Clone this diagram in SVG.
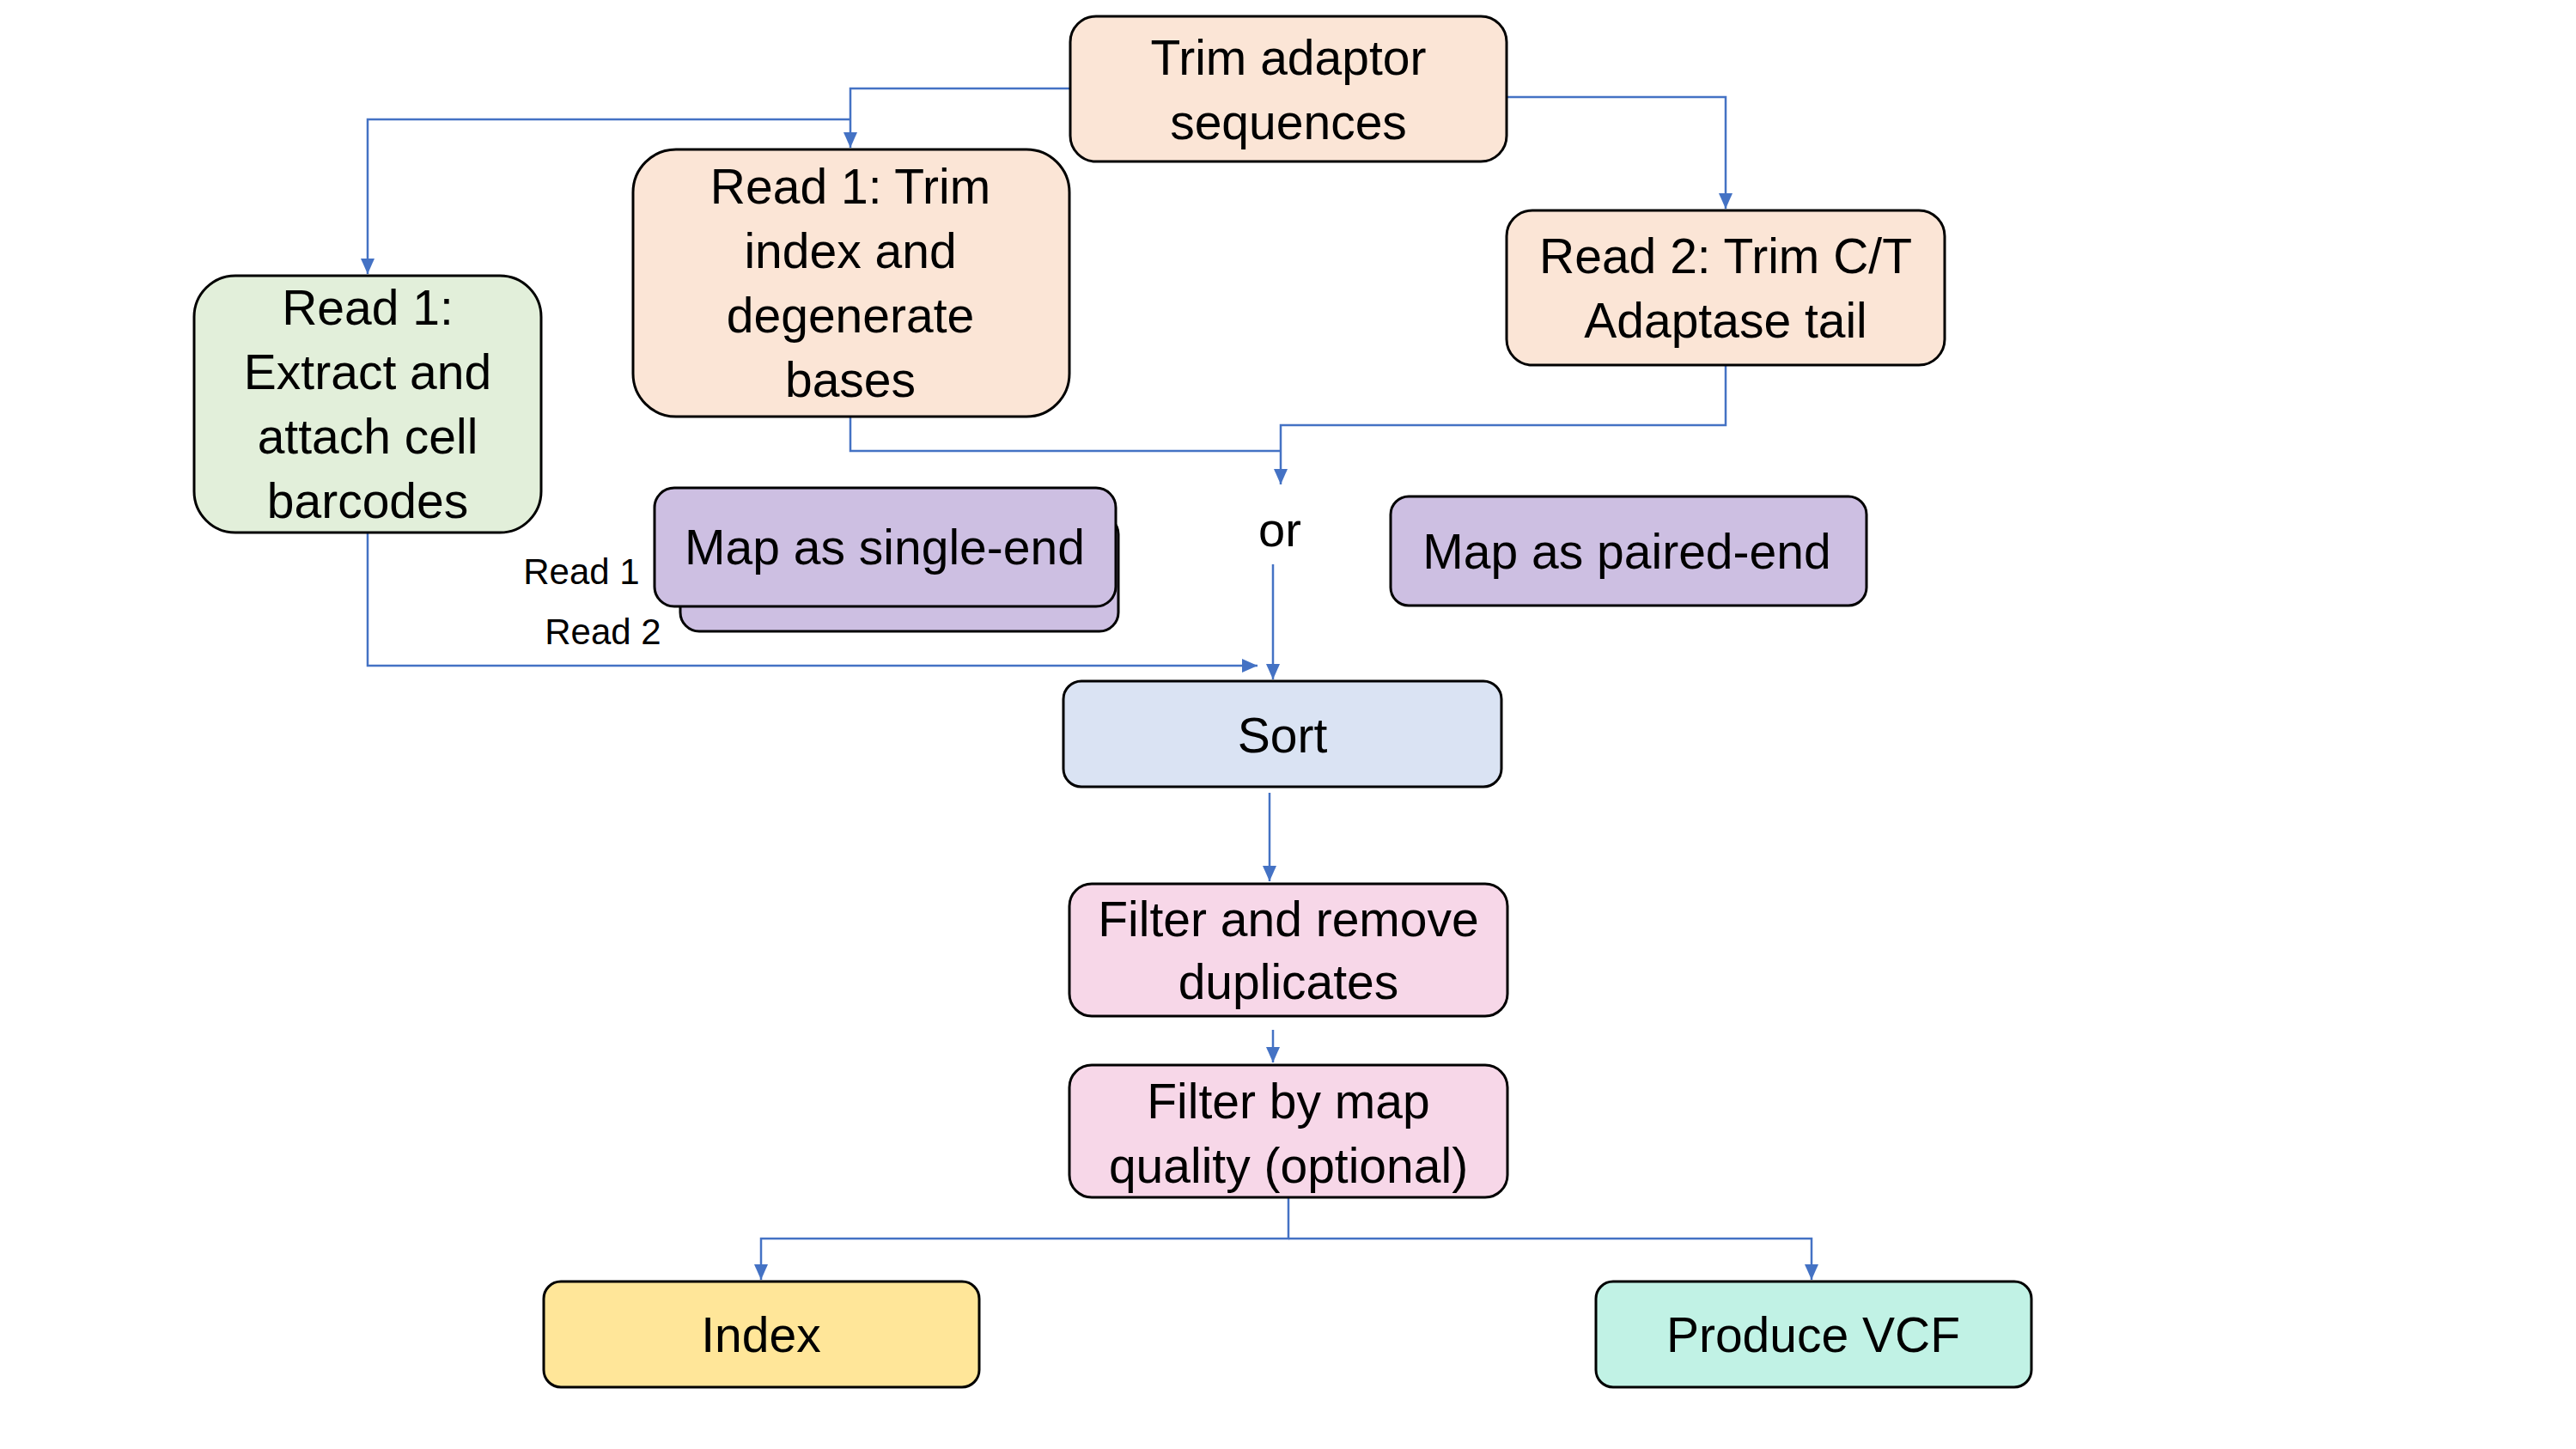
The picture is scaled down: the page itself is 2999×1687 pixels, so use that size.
<svg xmlns="http://www.w3.org/2000/svg" width="2999" height="1687" viewBox="0 0 2999 1687">
<style>
.box{stroke:#000;stroke-width:3}
.t{font-family:"Liberation Sans",Arial,sans-serif;font-size:57px;fill:#000;text-anchor:middle}
.s{font-family:"Liberation Sans",Arial,sans-serif;font-size:42px;fill:#000;text-anchor:middle}
.c{fill:none;stroke:#4472C4;stroke-width:2.5}
.peach{fill:#FBE5D6}.green{fill:#E2EFDA}.purple{fill:#CDBFE2}.blue{fill:#DAE3F3}.pink{fill:#F7D7E8}.yellow{fill:#FFE699}.mint{fill:#C1F2E5}
</style>
<defs>
<marker id="arr" markerUnits="userSpaceOnUse" markerWidth="20" markerHeight="16" refX="18" refY="8" orient="auto">
<path d="M0,0 L18,8 L0,16 Z" fill="#4472C4"/>
</marker>
</defs>
<rect width="2999" height="1687" fill="#fff"/>
<g id="connectors">
<path class="c" d="M1246,103 H990 V172" marker-end="url(#arr)"/>
<path class="c" d="M990,139 H428 V319" marker-end="url(#arr)"/>
<path class="c" d="M1754,113 H2009 V243" marker-end="url(#arr)"/>
<path class="c" d="M990,485 V525 H1491"/>
<path class="c" d="M2009,425 V495 H1491 V564" marker-end="url(#arr)"/>
<path class="c" d="M1482,657 V791" marker-end="url(#arr)"/>
<path class="c" d="M428,620 V775 H1464" marker-end="url(#arr)"/>
<path class="c" d="M1478,923 V1026" marker-end="url(#arr)"/>
<path class="c" d="M1482,1199 V1237" marker-end="url(#arr)"/>
<path class="c" d="M1500,1394 V1442 H886 V1490" marker-end="url(#arr)"/>
<path class="c" d="M1500,1442 H2109 V1490" marker-end="url(#arr)"/>
</g>
<g id="trim-adaptor">
<rect class="box peach" x="1246" y="19" width="508" height="169" rx="30"/>
<text class="t" x="1500" y="87">Trim adaptor</text>
<text class="t" x="1500" y="162">sequences</text>
</g>
<g id="read1-trim">
<rect class="box peach" x="737" y="174" width="508" height="311" rx="50"/>
<text class="t" x="990" y="237">Read 1: Trim</text>
<text class="t" x="990" y="312">index and</text>
<text class="t" x="990" y="387">degenerate</text>
<text class="t" x="990" y="462">bases</text>
</g>
<g id="read1-extract">
<rect class="box green" x="226" y="321" width="404" height="299" rx="48"/>
<text class="t" x="428" y="378">Read 1:</text>
<text class="t" x="428" y="453">Extract and</text>
<text class="t" x="428" y="528">attach cell</text>
<text class="t" x="428" y="603">barcodes</text>
</g>
<g id="read2-trim">
<rect class="box peach" x="1754" y="245" width="510" height="180" rx="30"/>
<text class="t" x="2009" y="318">Read 2: Trim C/T</text>
<text class="t" x="2009" y="393">Adaptase tail</text>
</g>
<g id="map-single">
<rect class="box purple" x="792" y="600" width="510" height="135" rx="22"/>
<rect class="box purple" x="762" y="568" width="537" height="138" rx="23"/>
<text class="t" x="1030" y="657">Map as single-end</text>
<text class="s" x="677" y="680">Read 1</text>
<text class="s" x="702" y="750">Read 2</text>
</g>
<g id="or-label">
<text class="t" x="1490" y="636" style="font-size:56px">or</text>
</g>
<g id="map-paired">
<rect class="box purple" x="1619" y="578" width="554" height="127" rx="21"/>
<text class="t" x="1894" y="662">Map as paired-end</text>
</g>
<g id="sort">
<rect class="box blue" x="1238" y="793" width="510" height="123" rx="21"/>
<text class="t" x="1493" y="876">Sort</text>
</g>
<g id="filter-dup">
<rect class="box pink" x="1245" y="1029" width="510" height="154" rx="26"/>
<text class="t" x="1500" y="1090">Filter and remove</text>
<text class="t" x="1500" y="1163">duplicates</text>
</g>
<g id="filter-mapq">
<rect class="box pink" x="1245" y="1240" width="510" height="154" rx="26"/>
<text class="t" x="1500" y="1302">Filter by map</text>
<text class="t" x="1500" y="1377">quality (optional)</text>
</g>
<g id="index">
<rect class="box yellow" x="633" y="1492" width="507" height="123" rx="20"/>
<text class="t" x="886" y="1574">Index</text>
</g>
<g id="produce-vcf">
<rect class="box mint" x="1858" y="1492" width="507" height="123" rx="20"/>
<text class="t" x="2111" y="1574">Produce VCF</text>
</g>
</svg>
